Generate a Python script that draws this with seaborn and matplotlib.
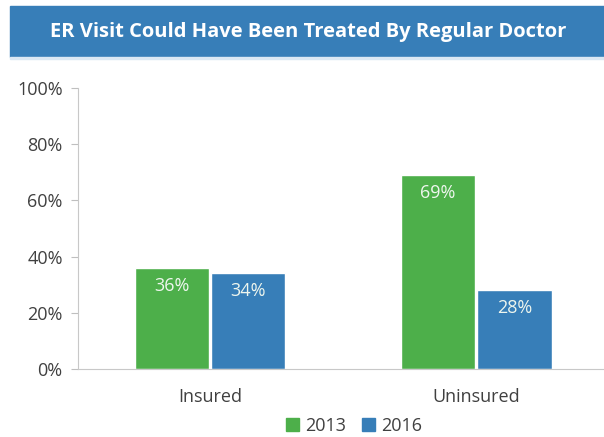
import pandas as pd
import matplotlib.pyplot as plt
import matplotlib.patches as mpatches
import seaborn as sns

# chart values
groups = ['Insured', 'Uninsured']
years = ['2013', '2016']
share_2013 = [36, 69]
share_2016 = [34, 28]
ytick_vals = [0, 20, 40, 60, 80, 100]
ytick_labels = ['0%', '20%', '40%', '60%', '80%', '100%']

df = pd.DataFrame({
    'Group': groups * 2,
    'Year': [years[0]] * 2 + [years[1]] * 2,
    'Share': share_2013 + share_2016,
})

sns.set_style('white')
plt.rcParams['font.family'] = ['Open Sans', 'DejaVu Sans']

green = '#4daf4a'
blue = '#377eb8'
text_col = '#404040'

fig = plt.figure(figsize=(6.04, 4.37), dpi=100)

# title banner
fig.patches.append(mpatches.Rectangle((10 / 604, 1 - 57 / 437), 594 / 604, 51 / 437,
                                      transform=fig.transFigure, color=blue, zorder=0))
fig.patches.append(mpatches.Rectangle((10 / 604, 1 - 59 / 437), 594 / 604, 2 / 437,
                                      transform=fig.transFigure, color='#dbe8f4', zorder=0))
fig.text(308 / 604, 1 - 32 / 437, 'ER Visit Could Have Been Treated By Regular Doctor',
         ha='center', va='center', color='white', fontsize=14.5, fontweight='bold')

ax = fig.add_axes([78 / 604, 1 - 369 / 437, 1 - 78 / 604, (369 - 88) / 437])
sns.barplot(data=df, x='Group', y='Share', hue='Year', palette=[green, blue],
            width=0.575, gap=0.03, ax=ax, legend=False, saturation=1)

ax.set_xlim(-0.496, 1.48)
ax.set_ylim(0, 100)
ax.set_yticks(ytick_vals)
ax.set_yticklabels(ytick_labels, fontsize=13, color=text_col)
ax.tick_params(axis='y', length=5, color='#bfbfbf', width=0.8, pad=6, left=True)
ax.tick_params(axis='x', length=0, pad=14, labelsize=13, labelcolor=text_col)
ax.set_xlabel('')
ax.set_ylabel('')
for s in ['top', 'right']:
    ax.spines[s].set_visible(False)
for s in ['left', 'bottom']:
    ax.spines[s].set_color('#c8c8c8')
    ax.spines[s].set_linewidth(0.8)

for cont in ax.containers:
    for bar in cont:
        h = bar.get_height()
        ax.text(bar.get_x() + bar.get_width() / 2, h - 6.3, f'{h:.0f}%',
                ha='center', va='center', color='#eef6ee', fontsize=13)

handles = [mpatches.Patch(color=green, label=years[0]),
           mpatches.Patch(color=blue, label=years[1])]
fig.legend(handles=handles, loc='center', bbox_to_anchor=(354 / 604, 1 - 426 / 437),
           ncol=2, frameon=False, fontsize=13, handlelength=0.7, handleheight=0.7,
           handletextpad=0.35, columnspacing=0.9, labelcolor=text_col)

fig.savefig('out.png', dpi=100)
